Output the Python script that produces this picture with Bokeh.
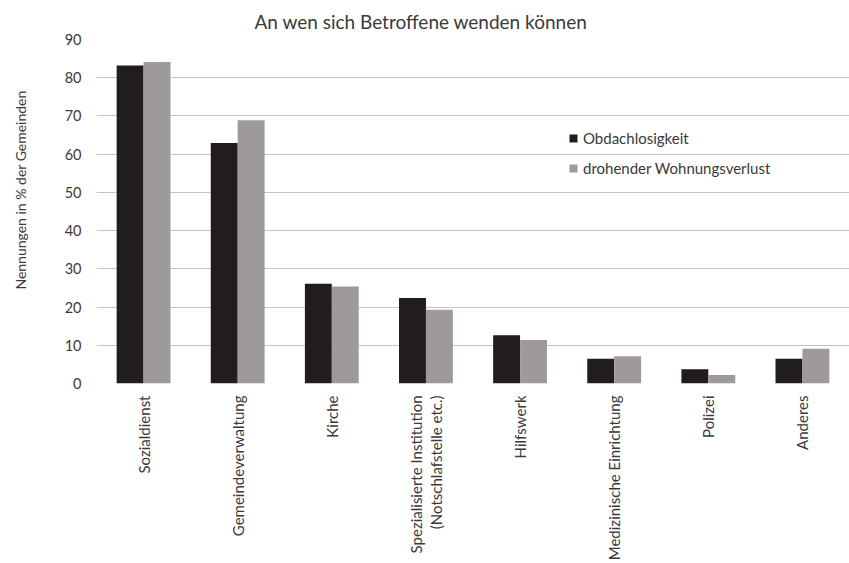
from bokeh.plotting import figure
from bokeh.layouts import column
from bokeh.models import FactorRange, Range1d, Legend, LegendItem, ColumnDataSource, FixedTicker
from bokeh.transform import dodge
from bokeh.embed import file_html
from bokeh.resources import INLINE
import math

categories = ["Sozialdienst", "Gemeindeverwaltung", "Kirche",
              "Spezialisierte Institution\n(Notschlafstelle etc.)", "Hilfswerk",
              "Medizinische Einrichtung", "Polizei", "Anderes"]
obdachlosigkeit = [83.2, 62.9, 26.1, 22.4, 12.6, 6.5, 3.7, 6.5]
wohnungsverlust = [84.1, 68.9, 25.4, 19.3, 11.4, 7.1, 2.2, 9.1]
y_ticks = [0, 10, 20, 30, 40, 50, 60, 70, 80, 90]

FONT = "Lato"
TXT = "#3a3a3a"
W = 849
H_MAIN = 393
H_LAB = 170

p = figure(x_range=FactorRange(*categories), y_range=(0, 90),
           width=W, height=H_MAIN, output_backend="svg", toolbar_location=None,
           min_border_left=96, min_border_right=0, min_border_top=39, min_border_bottom=10,
           title="An wen sich Betroffene wenden können")
p.title.align = "left"
p.title.offset = 158
p.title.standoff = 14
p.title.text_font = FONT
p.title.text_font_size = "19px"
p.title.text_font_style = "normal"
p.title.text_color = TXT

src = ColumnDataSource(dict(cat=categories, a=obdachlosigkeit, b=wohnungsverlust))
r1 = p.vbar(x=dodge("cat", -0.143, range=p.x_range), top="a", width=0.286, source=src,
            fill_color="#211d1e", line_color=None)
r2 = p.vbar(x=dodge("cat", 0.143, range=p.x_range), top="b", width=0.286, source=src,
            fill_color="#9e9a9b", line_color=None)

p.outline_line_color = None
p.xgrid.grid_line_color = None
p.ygrid.grid_line_color = "#c4c4c4"
p.ygrid.grid_line_width = 1
p.xaxis.visible = False

p.yaxis.ticker = FixedTicker(ticks=y_ticks)
p.yaxis.axis_line_color = None
p.yaxis.major_tick_line_color = None
p.yaxis.minor_tick_line_color = None
p.yaxis.major_label_standoff = 9
p.yaxis.major_label_text_font = FONT
p.yaxis.major_label_text_font_size = "14.5px"
p.yaxis.major_label_text_color = TXT
# leading no-break spaces lift the centred title towards the reference position
p.yaxis.axis_label = "\u00a0" * 12 + "Nennungen in % der Gemeinden"
p.yaxis.axis_label_standoff = 33
p.yaxis.axis_label_text_font = FONT
p.yaxis.axis_label_text_font_size = "14px"
p.yaxis.axis_label_text_font_style = "normal"
p.yaxis.axis_label_text_color = TXT

legend = Legend(items=[LegendItem(label="Obdachlosigkeit", renderers=[r1]),
                       LegendItem(label="drohender Wohnungsverlust", renderers=[r2])],
                location=(472, 205), orientation="vertical",
                glyph_width=10, glyph_height=10, label_height=20, spacing=10,
                padding=0, margin=0, label_standoff=5,
                border_line_color=None, background_fill_alpha=0,
                label_text_font=FONT, label_text_font_size="15px", label_text_color=TXT)
p.add_layout(legend, "center")

# category labels below the plot, sharing the same category scale
q = figure(x_range=p.x_range, y_range=Range1d(0, H_LAB),
           width=W, height=H_LAB, output_backend="svg", toolbar_location=None,
           min_border_left=96, min_border_right=0, min_border_top=0, min_border_bottom=0,
           x_axis_type=None, y_axis_type=None)
q.outline_line_color = None
q.grid.visible = False
q.text(x="cat", y=H_LAB - 2, text="cat", source=src, angle=math.pi / 2,
       text_align="right", text_baseline="middle", text_font_size="15px",
       text_font={"value": FONT}, text_color=TXT, text_line_height=1.15)

layout = column(p, q, spacing=0)
open("out.html", "w").write(file_html(layout, INLINE))
